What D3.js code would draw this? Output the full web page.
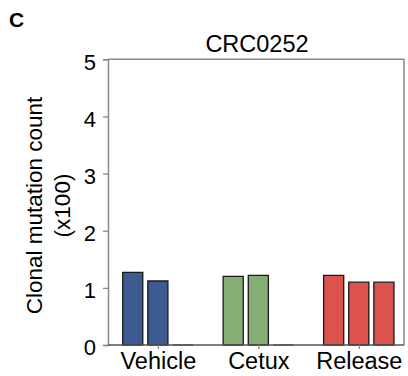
<!DOCTYPE html>
<html>
<head>
<meta charset="utf-8">
<script src="https://cdn.jsdelivr.net/npm/d3@7"></script>
<style>
  html, body { margin: 0; padding: 0; background: #fff; }
  svg { display: block; font-family: "Liberation Sans", Arial, Helvetica, sans-serif; }
</style>
</head>
<body>
<svg id="chart" width="408" height="376"></svg>
<script>
const groups = ["Vehicle", "Cetux", "Release"];
const groupColors = ["#3B5B92", "#86AE74", "#DC524C"];
const vehicleValues = [1.27, 1.12, 0];
const cetuxValues = [1.20, 1.22, 0];
const releaseValues = [1.22, 1.10, 1.10];
const yTicks = [0, 1, 2, 3, 4, 5];
const title = "CRC0252";
const yLabelLines = ["Clonal mutation count", "(x100)"];
const panelLabel = "C";

(function () {
const seriesByGroup = [vehicleValues, cetuxValues, releaseValues];
const bars = [];
seriesByGroup.forEach((vals, g) => vals.forEach((v, i) => bars.push({ g, i, v, pos: 4 * g + i })));

const svg = d3.select("#chart");
const mLeft = 108, mRight = 404, mTop = 59.3, mBottom = 345;
const x = d3.scaleLinear().domain([-0.585, 11.2]).range([mLeft, mRight]);
const y = d3.scaleLinear().domain([0, 5]).range([mBottom, mTop]);
const barW = 0.8;

// panel label
svg.append("text").attr("x", 9).attr("y", 27)
  .attr("font-size", 21).attr("font-weight", "bold").attr("fill", "#000").text(panelLabel);

// title
svg.append("text").attr("x", 257).attr("y", 51.7)
  .attr("text-anchor", "middle").attr("font-size", 23.5).attr("fill", "#000").text(title);

// frame (top/right)
svg.append("path")
  .attr("d", `M${mLeft},${mTop}H${mRight}V${mBottom}`)
  .attr("fill", "none").attr("stroke", "#8a8a8a").attr("stroke-width", 1.5);

// bars
svg.append("g").selectAll("path").data(bars).join("path")
  .attr("d", d => {
    const x0 = x(d.pos), x1 = x(d.pos + barW), y0 = y(0), y1 = y(d.v);
    return `M${x0},${y0}V${y1}H${x1}V${y0}Z`;
  })
  .attr("fill", d => groupColors[d.g])
  .attr("stroke", d => d.v === 0 ? "#555" : "#1a1a1a")
  .attr("stroke-width", 1.3);

// y axis
const yAxis = d3.axisLeft(y).tickValues(yTicks).tickSize(5).tickPadding(7).tickFormat(d3.format("d"));
const gy = svg.append("g").attr("transform", `translate(${mLeft},0)`).call(yAxis);
gy.select(".domain").attr("stroke", "#8a8a8a").attr("stroke-width", 1.5);
gy.selectAll(".tick line").attr("stroke", "#8a8a8a").attr("stroke-width", 1.3);
gy.selectAll(".tick text").attr("font-size", 22).attr("fill", "#000")
  .attr("font-family", "'Liberation Sans', Arial, sans-serif").attr("dy", "0.45em");

// x axis
const xAxis = d3.axisBottom(x).tickValues(groups.map((_, g) => 4 * g + 1 + barW / 2))
  .tickSize(4).tickPadding(4).tickFormat((d, i) => groups[i]);
const gx = svg.append("g").attr("transform", `translate(0,${mBottom})`).call(xAxis);
gx.select(".domain").attr("d", `M${mLeft},0H${mRight}`).attr("stroke", "#555").attr("stroke-width", 1.5);
gx.selectAll(".tick line").attr("stroke", "#8a8a8a").attr("stroke-width", 1.3);
gx.selectAll(".tick text").attr("font-size", 23.5).attr("fill", "#000")
  .attr("font-family", "'Liberation Sans', Arial, sans-serif").attr("dy", "0.71em").attr("y", 7);

// y label
const yl = svg.append("text").attr("transform", "translate(41.5,205.5) rotate(-90)")
  .attr("text-anchor", "middle").attr("font-size", 22.5).attr("fill", "#000");
yl.append("tspan").attr("x", 0).attr("y", 0).text(yLabelLines[0]);
yl.append("tspan").attr("x", 0).attr("y", 28).text(yLabelLines[1]);
})();
</script>
</body>
</html>
